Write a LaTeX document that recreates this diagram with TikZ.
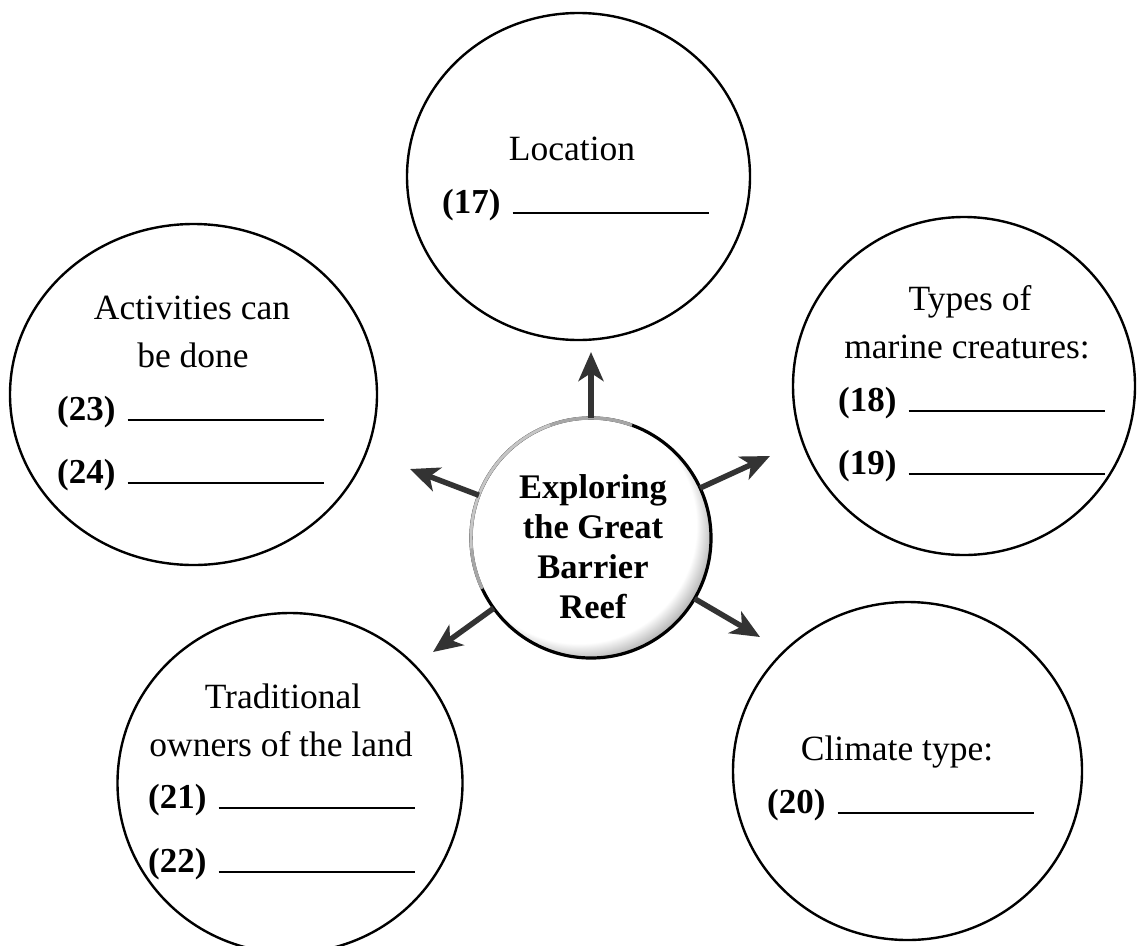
\documentclass[tikz,border=0pt]{standalone}
\usepackage{fontspec}
\setmainfont{Liberation Serif}
\usetikzlibrary{shapes.geometric,arrows.meta}
\pgfdeclareradialshading{glassball}{\pgfpoint{-5bp}{5bp}}{color(0bp)=(white);color(24.5bp)=(white);color(28.5bp)=(black!35);color(32bp)=(black!85);color(50bp)=(black!85)}
\newcommand\myblank{\hspace{12pt}\rule[-1pt]{196pt}{2pt}}
\begin{document}
\begin{tikzpicture}[x=1pt,y=-1pt,
  bubble/.style={draw=black, line width=2.4pt, ellipse, inner sep=0pt},
  head/.style={font=\fontsize{35.5}{48}\selectfont, anchor=base, inner sep=0pt},
  blank/.style={font=\fontsize{35}{48}\selectfont, anchor=base west, inner sep=0pt},
  centertext/.style={font=\fontsize{34.5}{40}\selectfont\bfseries, align=center, anchor=north, inner sep=0pt},
  arr/.style={line width=5.5pt, draw=black!80, -{Stealth[length=29pt,width=25pt,inset=8pt]}}]
\clip (0,0) rectangle (1137,945);
\fill[white] (0,0) rectangle (1137,945);

% outer bubbles
\node[bubble, minimum width=343pt, minimum height=327pt] (loc) at (578.5,176.5) {};
\node[bubble, minimum width=367pt, minimum height=341pt] (act) at (193.5,394.5) {};
\node[bubble, minimum width=342pt, minimum height=338pt] (typ) at (964,386) {};
\node[bubble, minimum width=345pt, minimum height=340pt] (tra) at (290,783) {};
\node[bubble, minimum width=349pt, minimum height=338pt] (cli) at (907.5,771) {};

% texts
\node[head] (locH) at (572,160) {Location};
\node[blank] (n17) at (442,213) {\textbf{(17)}\myblank};

\node[head] (actH1) at (192,319) {Activities can};
\node[head] (actH2) at (193,367) {be done};
\node[blank] (n23) at (57,420) {\textbf{(23)}\myblank};
\node[blank] (n24) at (57,483) {\textbf{(24)}\myblank};

\node[head] (typH1) at (970,310) {Types of};
\node[head] (typH2) at (967,358) {marine creatures:};
\node[blank] (n18) at (838,411) {\textbf{(18)}\myblank};
\node[blank] (n19) at (838,474) {\textbf{(19)}\myblank};

\node[head] (traH1) at (283,708) {Traditional};
\node[head] (traH2) at (281,756) {owners of the land};
\node[blank] (n21) at (148,808) {\textbf{(21)}\myblank};
\node[blank] (n22) at (148,872) {\textbf{(22)}\myblank};

\node[head] (cliH) at (897,760) {Climate type:};
\node[blank] (n20) at (767,813) {\textbf{(20)}\myblank};

% central circle
\node[circle, minimum size=240pt, inner sep=0pt, outer sep=0pt, shade, shading=glassball, draw=black, line width=3.2pt] (c) at (591,538) {};
\begin{scope}[y=1pt]
  \draw[gray!70, line width=3.4pt] (c.70) arc[start angle=70, end angle=205, radius=120pt];
  \draw[gray!45, line width=2.4pt] (c.110) arc[start angle=110, end angle=185, radius=120pt];
\end{scope}
\node[centertext] (ct) at (593,474) {Exploring\\the Great\\Barrier\\Reef};

% arrows
\coordinate (t17) at (591,352);
\coordinate (t18) at (770,456);
\coordinate (t20) at (760,637);
\coordinate (t21) at (433,652);
\coordinate (t23) at (410,469);
\draw[arr] (c) -- (t17);
\draw[arr] (c) -- (t18);
\draw[arr] (c) -- (t20);
\draw[arr] (c) -- (t21);
\draw[arr] (c) -- (t23);
\end{tikzpicture}
\end{document}
